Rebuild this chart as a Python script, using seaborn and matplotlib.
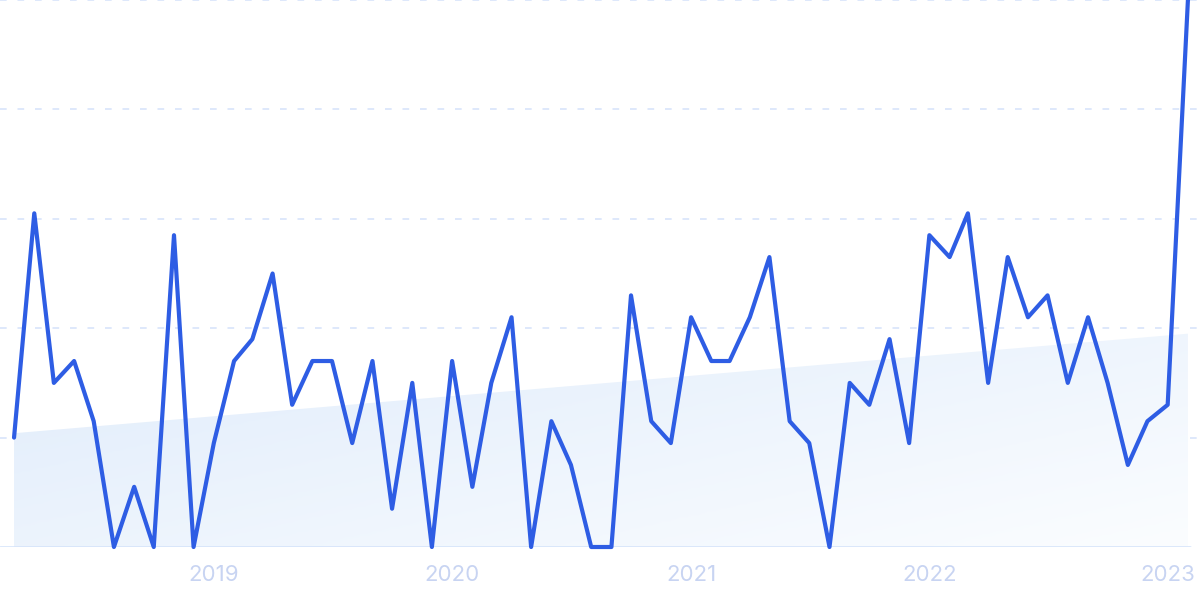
import numpy as np
import pandas as pd
import matplotlib
matplotlib.use('Agg')
import matplotlib.pyplot as plt
import matplotlib.dates as mdates
from matplotlib.colors import LinearSegmentedColormap
import seaborn as sns

# monthly interest values, 2018-03 .. 2023-02
months = pd.date_range('2018-03-01', '2023-02-01', freq='MS')
interest = [20, 61, 30, 34, 23, 0, 11, 0, 57, 0,
            19, 34, 38, 50, 26, 34, 34, 19, 34, 7,
            30, 0, 34, 11, 30, 42, 0, 23, 15, 0,
            0, 46, 23, 19, 42, 34, 34, 42, 53, 23,
            19, 0, 30, 26, 38, 19, 57, 53, 61, 30,
            53, 42, 46, 30, 42, 30, 15, 23, 26, 100]
# trend band (start / end level)
trend_start = 20.8
trend_end = 39.0
year_ticks = ['2019', '2020', '2021', '2022', '2023']

df = pd.DataFrame({'month': months, 'interest': interest})

sns.set_style('white')
plt.rcParams['font.family'] = ['Inter', 'DejaVu Sans']

fig = plt.figure(figsize=(12, 5.99), dpi=100)
ax = fig.add_axes([0, 52 / 599, 1, 547 / 599])

x0 = mdates.date2num(months[0])
x1 = mdates.date2num(months[-1])
ax.set_xlim(x0 - 21.5, x1 + 18.5)
ax.set_ylim(0, 100)

# gradient trend area
xs = np.array([x0, x1])
ys = np.array([trend_start, trend_end])
poly = ax.fill_between(xs, 0, ys, color='none', lw=0)
gx, gy = np.meshgrid(np.linspace(0, 1, 200), np.linspace(0, 1, 100))
grad = 0.55 * gx + 0.45 * (1 - gy)
cmap = LinearSegmentedColormap.from_list('trend', ['#e0ecfb', '#fbfdff'])
img = ax.imshow(grad, cmap=cmap, extent=[x0, x1, 0, trend_end], origin='lower',
                aspect='auto', zorder=1)
img.set_clip_path(poly.get_paths()[0], transform=ax.transData)

# grid lines
for g in [20, 40, 60, 80, 100]:
    ax.axhline(g, color='#d8e4fb', lw=1.2, ls=(0, (4, 6.5)), zorder=0)
ax.axhline(0, color='#d3e2fa', lw=1.8, xmax=0.992, zorder=2)

sns.lineplot(data=df, x='month', y='interest', ax=ax, color='#2e5de4',
             lw=3.0, zorder=3, clip_on=False)

ax.set_xticks([mdates.date2num(pd.Timestamp(y + '-01-01')) for y in year_ticks])
ax.set_xticklabels(year_ticks)
ax.tick_params(axis='x', length=0, pad=13, labelsize=16, labelcolor='#c8d4f2')
ax.set_yticks([])
ax.set_xlabel('')
ax.set_ylabel('')
for s in ax.spines.values():
    s.set_visible(False)

fig.savefig('out.png', dpi=100)
